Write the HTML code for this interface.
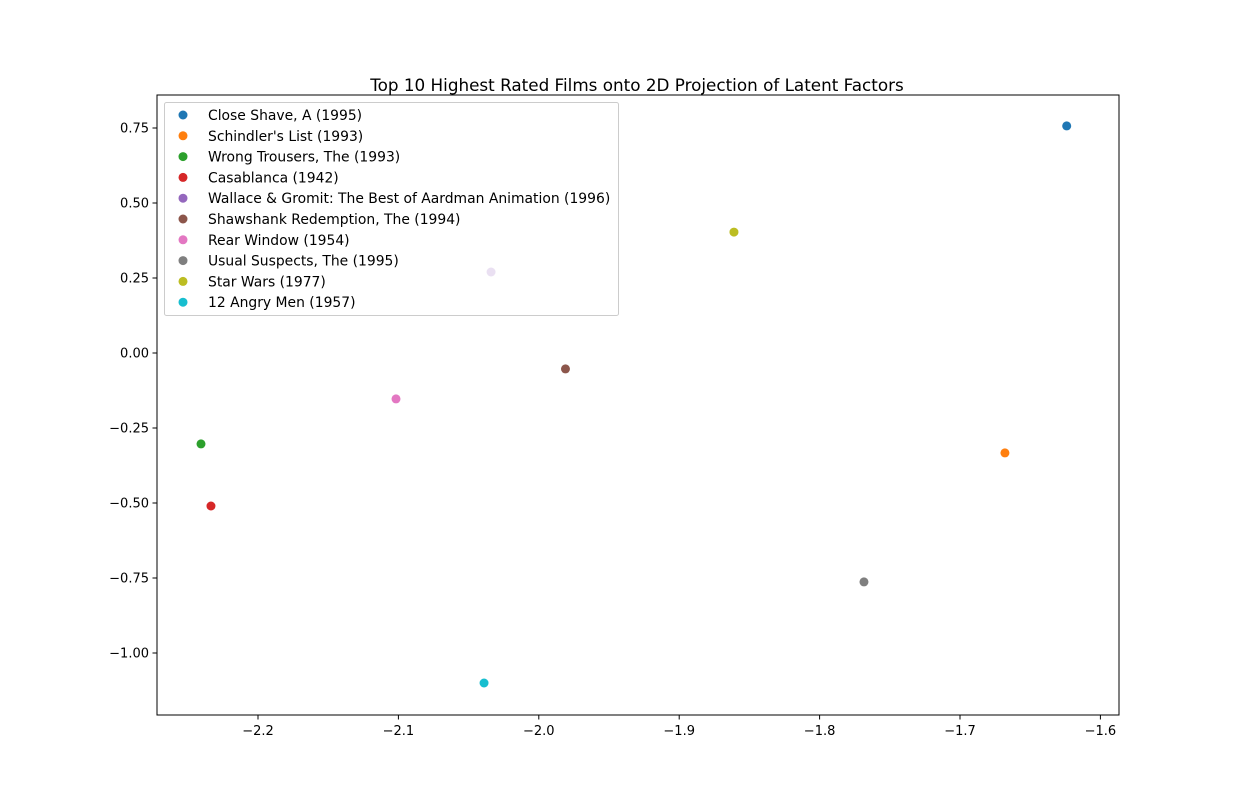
<!DOCTYPE html>
<html><head><meta charset="utf-8"><style>
html,body{margin:0;padding:0;background:#fff;}
svg text{font-family:"DejaVu Sans","Liberation Sans",sans-serif;}
</style></head><body>
<svg id="chart" width="1243" height="803" xmlns="http://www.w3.org/2000/svg">
<rect width="1243" height="803" fill="#fff"/>
<text x="637" y="91" font-size="16.8" text-anchor="middle">Top 10 Highest Rated Films onto 2D Projection of Latent Factors</text>
<g id="marks"></g>
<g id="axes"></g>
<g id="legend"></g>
</svg>
<script>
const films = ["Close Shave, A (1995)","Schindler's List (1993)","Wrong Trousers, The (1993)","Casablanca (1942)","Wallace & Gromit: The Best of Aardman Animation (1996)","Shawshank Redemption, The (1994)","Rear Window (1954)","Usual Suspects, The (1995)","Star Wars (1977)","12 Angry Men (1957)"];
const xVals = [-1.624,-1.668,-2.2406,-2.2335,-2.034,-1.981,-2.1017,-1.7684,-1.861,-2.039];
const yVals = [0.757,-0.333,-0.303,-0.51,0.27,-0.053,-0.153,-0.763,0.403,-1.1];
const colors = ["#1f77b4","#ff7f0e","#2ca02c","#d62728","#9467bd","#8c564b","#e377c2","#7f7f7f","#bcbd22","#17becf"];
const xTicks = [-2.2,-2.1,-2.0,-1.9,-1.8,-1.7,-1.6];
const xTickLabels = ["\u22122.2","\u22122.1","\u22122.0","\u22121.9","\u22121.8","\u22121.7","\u22121.6"];
const yTicks = [0.75,0.5,0.25,0,-0.25,-0.5,-0.75,-1.0];
const yTickLabels = ["0.75","0.50","0.25","0.00","\u22120.25","\u22120.50","\u22120.75","\u22121.00"];

const NS="http://www.w3.org/2000/svg";
const L=157,R=1119,T=95,B=715;
function xs(v){return 258+(v+2.2)*1404;}
function ys(v){return 353-v*300;}
function mk(tag,attrs,parent){const e=document.createElementNS(NS,tag);for(const k in attrs)e.setAttribute(k,attrs[k]);parent.appendChild(e);return e;}
const marks=document.getElementById('marks'),axes=document.getElementById('axes'),leg=document.getElementById('legend');
films.forEach((f,i)=>{
  const c=mk('circle',{cx:xs(xVals[i]),cy:ys(yVals[i]),r:4.5,fill:colors[i]},marks);
  
  
});
const frame=mk('rect',{x:L,y:T,width:R-L,height:B-T,fill:'none',stroke:'#000','stroke-width':1},axes);


xTicks.forEach((t,i)=>{
  const x=xs(t);
  const l=mk('line',{x1:x,x2:x,y1:B,y2:B+4.5,stroke:'#000'},axes);
  
  
  const tx=mk('text',{x:x,y:B+20,'font-size':13,'text-anchor':'middle'},axes);
  tx.textContent=xTickLabels[i];
  
  
});
yTicks.forEach((t,i)=>{
  const y=ys(t);
  const l=mk('line',{x1:L-4.5,x2:L,y1:y,y2:y,stroke:'#000'},axes);
  
  
  const tx=mk('text',{x:L-8,y:y+4.5,'font-size':13,'text-anchor':'end'},axes);
  tx.textContent=yTickLabels[i];
  
  
});
const box=mk('rect',{x:164.5,y:102.5,width:454,height:213,rx:2,fill:'#fff','fill-opacity':0.8,stroke:'#ccc'},leg);


films.forEach((f,i)=>{
  const y=115+i*20.8;
  const c=mk('circle',{cx:183,cy:y,r:4.5,fill:colors[i]},leg);
  
  
  const t=mk('text',{x:208,y:y+5,'font-size':13.9},leg);
  t.textContent=f;
  
  
});
</script>
</body></html>
